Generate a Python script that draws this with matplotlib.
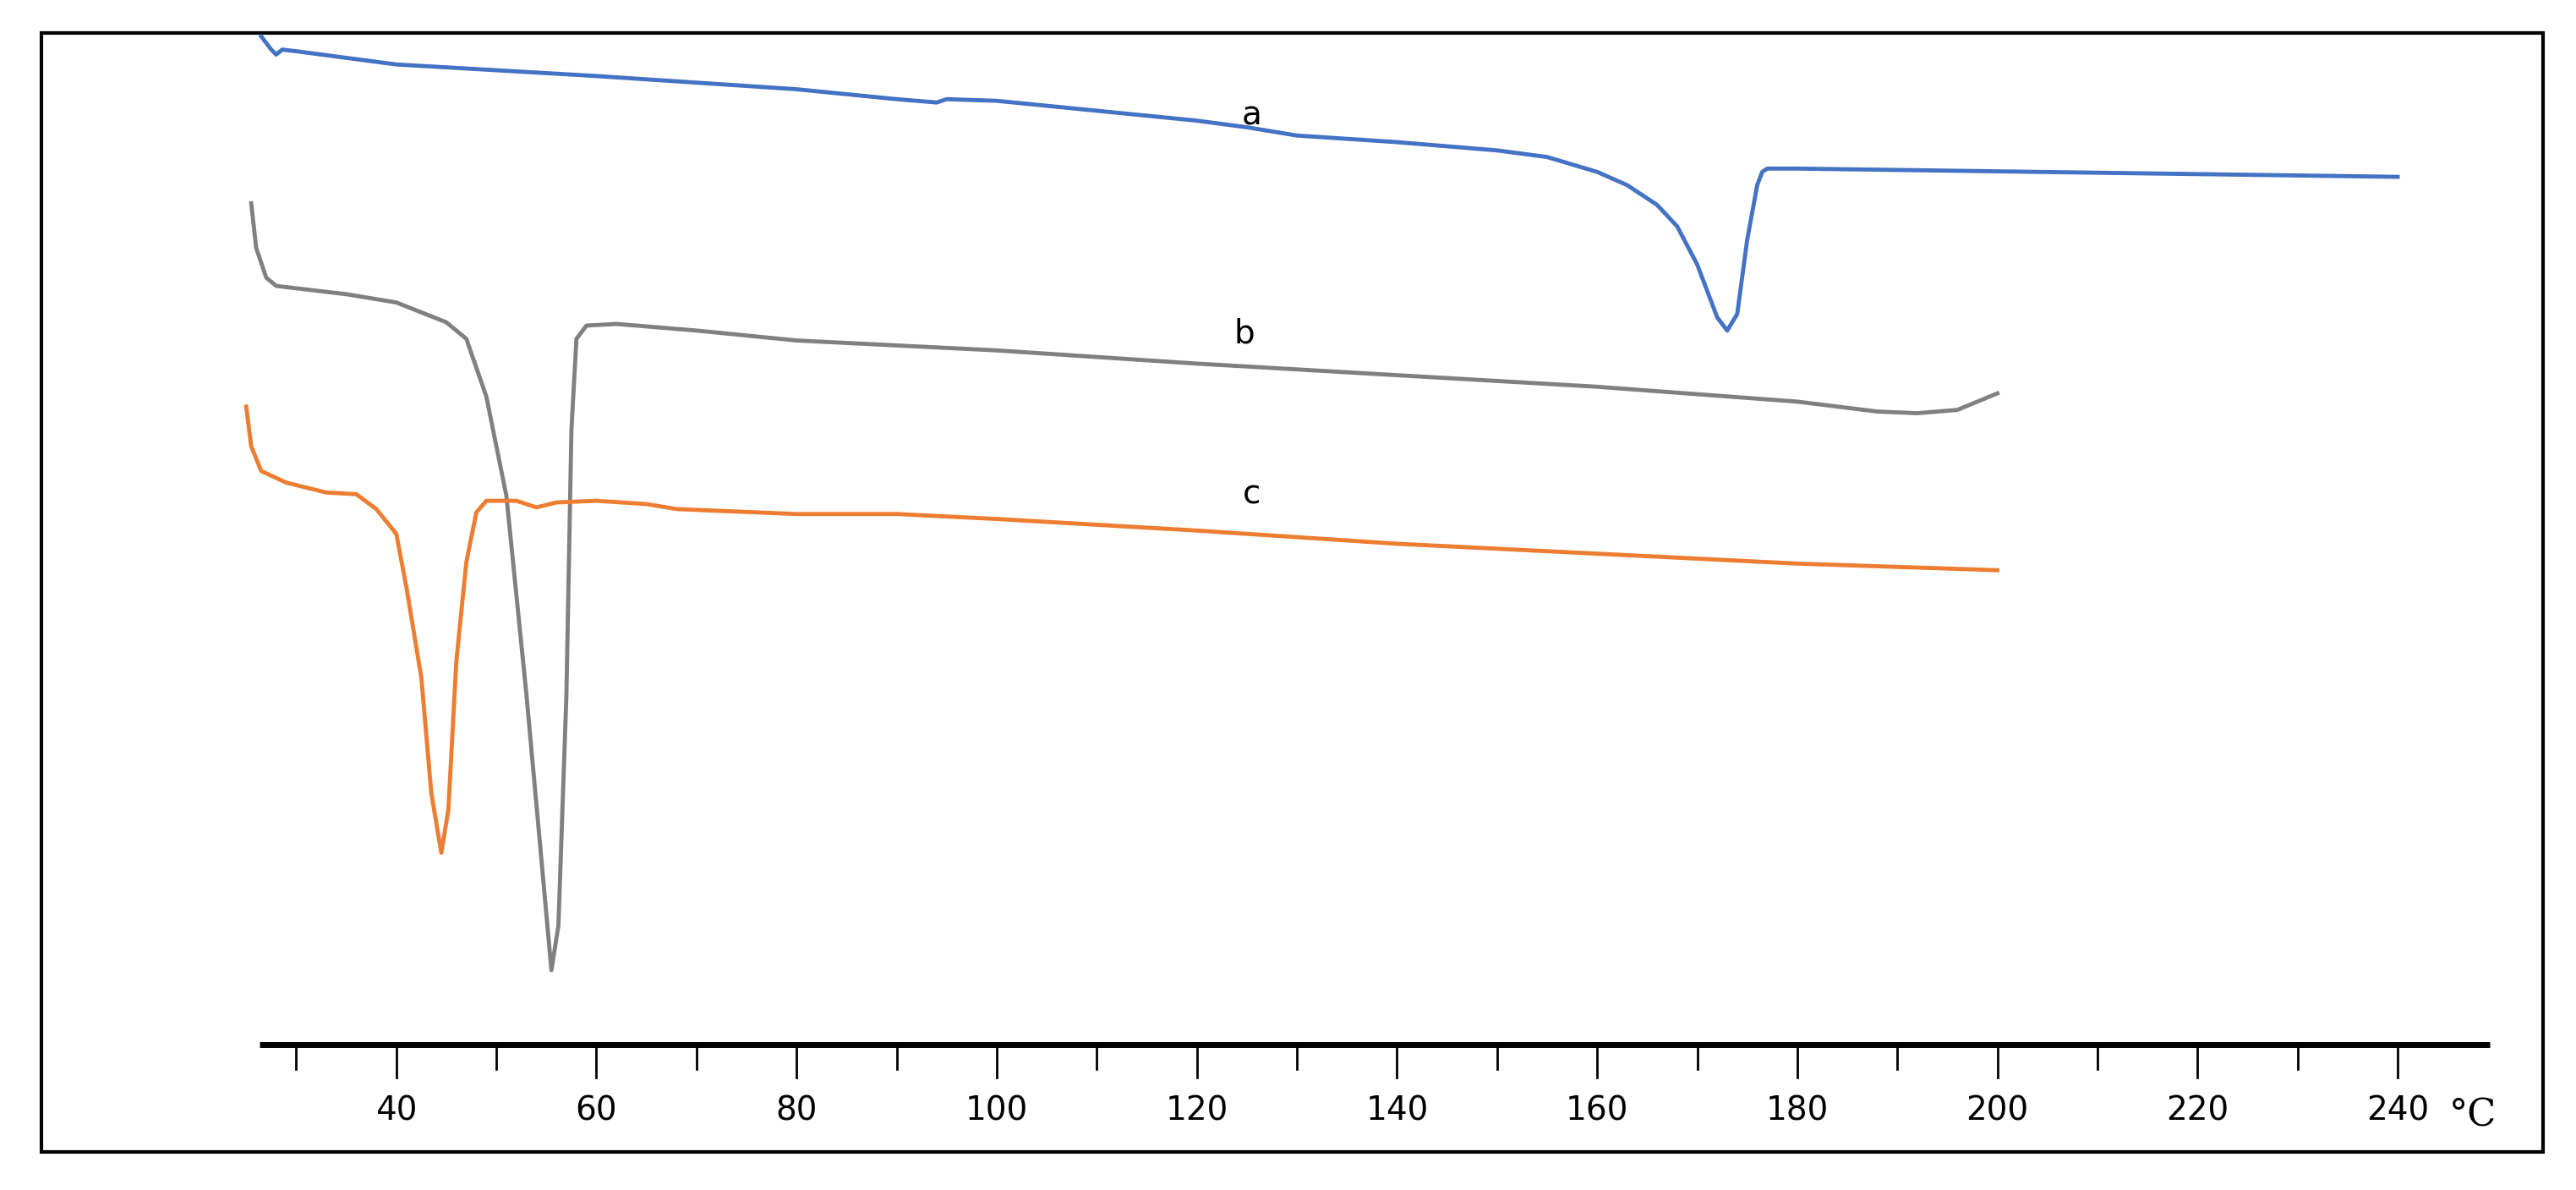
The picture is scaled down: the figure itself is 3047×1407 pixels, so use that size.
import matplotlib
matplotlib.use("Agg")
import matplotlib.pyplot as plt
from matplotlib.patches import Rectangle

# Temperature (°C) and signal (read as downward offsets from picture)
Ta = [26.5, 27.5, 28, 28.6, 30, 40, 60, 80, 90, 94, 95, 100, 120, 125, 130, 140, 150, 155, 160, 163, 166, 168, 170, 171, 172, 173, 174, 175, 176, 176.5, 177, 180, 240]
Ya = [22, 30, 33, 30, 31, 39, 46, 54, 60, 62, 60, 61, 73, 77, 82, 86, 91, 95, 104, 112, 124, 137, 160, 176, 192, 200, 190, 145, 112, 104, 102, 102, 107]

Tb = [25.5, 26, 27, 28, 35, 40, 45, 47, 49, 51, 53, 54.5, 55.5, 56.2, 57, 57.5, 58, 59, 62, 70, 80, 100, 120, 140, 160, 180, 188, 192, 196, 200]
Yb = [123, 150, 168, 173, 178, 183, 195, 205, 240, 300, 420, 520, 587, 560, 420, 260, 205, 197, 196, 200, 206, 212, 220, 227, 234, 243, 249, 250, 248, 238]

Tc = [25, 25.5, 26.5, 29, 33, 36, 38, 40, 41, 42.5, 43.5, 44.5, 45.2, 46, 47, 48, 49, 52, 54, 56, 60, 65, 68, 80, 90, 100, 120, 140, 160, 180, 200]
Yc = [246, 270, 285, 292, 298, 299, 308, 323, 355, 410, 480, 516, 490, 400, 340, 310, 303, 303, 307, 304, 303, 305, 308, 311, 311, 314, 321, 329, 335, 341, 345]

tick_labels = [40, 60, 80, 100, 120, 140, 160, 180, 200, 220, 240]
minor_ticks = [30, 50, 70, 90, 110, 130, 150, 170, 190, 210, 230]

fig = plt.figure(figsize=(30.47, 14.07), dpi=100)
ax = fig.add_axes([0, 0, 1, 1])
ax.set_xlim(40 - 240 / 6.06, 40 + (1560 - 240) / 6.06)
ax.set_ylim(720, 0)
ax.axis("off")

ax.add_patch(Rectangle((25 / 1560, 1 - 697 / 720), 1515 / 1560, 677 / 720,
                       transform=ax.transAxes, fill=False, lw=3, ec="black"))

ax.plot(Ta, Ya, color="#4472C4", lw=3.5)
ax.plot(Tb, Yb, color="#808080", lw=3.5)
ax.plot(Tc, Yc, color="#ED7D31", lw=3.5)

ax.text(125.5, 70, "a", fontsize=28, ha="center", va="center")
ax.text(124.7, 202, "b", fontsize=28, ha="center", va="center")
ax.text(125.5, 299, "c", fontsize=28, ha="center", va="center")

ax.plot([26.3, 249.2], [632, 632], color="black", lw=5, solid_capstyle="butt")
for t in tick_labels:
    ax.plot([t, t], [632, 652], color="black", lw=2)
    ax.text(t, 672, str(t), fontsize=28, ha="center", va="center")
for t in minor_ticks:
    ax.plot([t, t], [632, 647], color="black", lw=2)
ax.text(247.5, 675, "°C", fontsize=32, ha="center", va="center", family="DejaVu Serif")

fig.savefig("out.png", dpi=100)
